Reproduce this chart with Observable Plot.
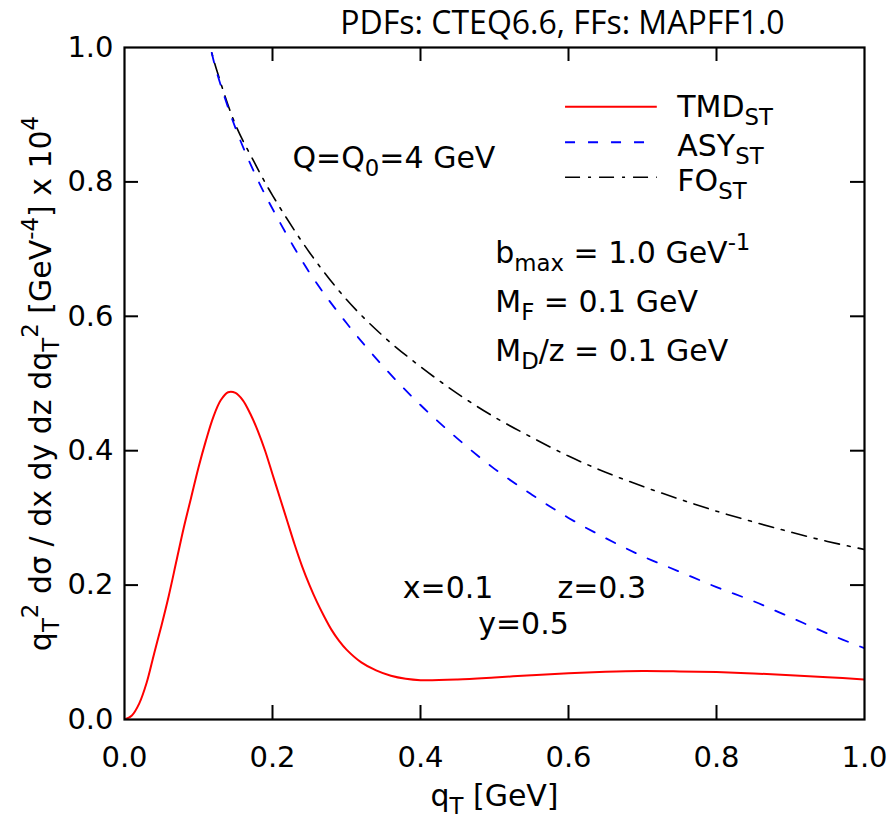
<!DOCTYPE html>
<html>
<head>
<meta charset="utf-8">
<script src="https://cdn.jsdelivr.net/npm/d3@7"></script>
<script src="https://cdn.jsdelivr.net/npm/@observablehq/plot@0.6"></script>
<style>
  html, body { margin: 0; padding: 0; background: white; }
</style>
</head>
<body>
<div id="chart"></div>
<script>
// ---- data ----
const seriesNames = ["TMD_{ST}", "ASY_{ST}", "FO_{ST}"];

const qTmd = [0, 0.01, 0.02, 0.03, 0.04, 0.05, 0.06, 0.07, 0.08, 0.09, 0.10, 0.11, 0.12, 0.13, 0.14, 0.15, 0.16, 0.17, 0.18, 0.19, 0.20, 0.21, 0.22, 0.23, 0.24, 0.25, 0.26, 0.27, 0.28, 0.29, 0.30, 0.32, 0.34, 0.36, 0.38, 0.40, 0.45, 0.50, 0.55, 0.60, 0.65, 0.70, 0.75, 0.80, 0.85, 0.90, 0.95, 1.00];
const tmd  = [0, 0.006, 0.024, 0.055, 0.098, 0.14, 0.185, 0.235, 0.285, 0.33, 0.375, 0.415, 0.45, 0.475, 0.487, 0.486, 0.475, 0.455, 0.43, 0.40, 0.365, 0.33, 0.295, 0.26, 0.228, 0.20, 0.175, 0.153, 0.133, 0.117, 0.104, 0.085, 0.073, 0.065, 0.0605, 0.0585, 0.0595, 0.0625, 0.066, 0.069, 0.071, 0.072, 0.0715, 0.0705, 0.0685, 0.066, 0.063, 0.0595];

const qCurve = [0.11, 0.116, 0.125, 0.15, 0.175, 0.20, 0.25, 0.30, 0.35, 0.40, 0.45, 0.50, 0.55, 0.60, 0.65, 0.70, 0.75, 0.80, 0.85, 0.90, 0.95, 1.00];
const asy    = [1.025, 1.0, 0.962, 0.88, 0.815, 0.76, 0.665, 0.59, 0.525, 0.468, 0.418, 0.373, 0.335, 0.30, 0.27, 0.243, 0.22, 0.197, 0.176, 0.152, 0.128, 0.106];
const fo     = [1.025, 1.0, 0.965, 0.885, 0.83, 0.78, 0.695, 0.625, 0.57, 0.525, 0.485, 0.45, 0.42, 0.392, 0.368, 0.347, 0.328, 0.31, 0.294, 0.279, 0.265, 0.253];

const xTicks = [0, 0.2, 0.4, 0.6, 0.8, 1.0];
const yTicks = [0, 0.2, 0.4, 0.6, 0.8, 1.0];
const innerTicks = [0.2, 0.4, 0.6, 0.8];

const title = "PDFs: CTEQ6.6, FFs: MAPFF1.0";
const xLabel = "q_{T} [GeV]";
const yLabel = "q_{T}^{2} dσ / dx dy dz dq_{T}^{2} [GeV^{-4}] x 10^{4}";
const annoQ = "Q=Q_{0}=4 GeV";
const annoParams = ["b_{max} = 1.0 GeV^{-1}", "M_{F} = 0.1 GeV", "M_{D}/z = 0.1 GeV"];
const annoKin = ["x=0.1", "z=0.3", "y=0.5"];

// ---- tables ----
const tmdData = qTmd.map((q, i) => ({q, v: tmd[i]}));
const asyData = qCurve.map((q, i) => ({q, v: asy[i]}));
const foData  = qCurve.map((q, i) => ({q, v: fo[i]}));

const FS = 29;
const FA = 30;
const SUBSCALE = 0.76;
const fmt = d3.format(".1f");

const plot = Plot.plot({
  width: 890,
  height: 820,
  marginLeft: 124,
  marginRight: 26,
  marginTop: 47,
  marginBottom: 101,
  style: {fontFamily: "DejaVu Sans", fontSize: FS + "px", background: "white", color: "black", overflow: "visible"},
  x: {domain: [0, 1], ticks: xTicks, tickSize: 0, tickPadding: 27, tickFormat: fmt, label: null},
  y: {domain: [0, 1], ticks: yTicks, tickSize: 0, tickPadding: 11, tickFormat: fmt, label: null},
  marks: [
    // curves
    Plot.line(foData,  {x: "q", y: "v", stroke: "black", strokeWidth: 1.6, strokeDasharray: "15,8,3,8", curve: "catmull-rom", clip: true}),
    Plot.line(asyData, {x: "q", y: "v", stroke: "blue", strokeWidth: 1.8, strokeDasharray: "10,13", curve: "catmull-rom", clip: true}),
    Plot.line(tmdData, {x: "q", y: "v", stroke: "red", strokeWidth: 2, curve: "catmull-rom", clip: true}),
    // inward ticks on all four sides
    Plot.tickX(innerTicks, {x: d => d, insetTop: 658, stroke: "black", strokeWidth: 2}),
    Plot.tickX(innerTicks, {x: d => d, insetBottom: 658, stroke: "black", strokeWidth: 2}),
    Plot.tickY(innerTicks, {y: d => d, insetRight: 726, stroke: "black", strokeWidth: 2}),
    Plot.tickY(innerTicks, {y: d => d, insetLeft: 726, stroke: "black", strokeWidth: 2}),
    Plot.frame({stroke: "black", strokeWidth: 2.2}),
    // legend
    Plot.ruleY([0.912], {x1: 0.596, x2: 0.72, stroke: "red", strokeWidth: 2}),
    Plot.ruleY([0.859], {x1: 0.596, x2: 0.72, stroke: "blue", strokeWidth: 2, strokeDasharray: "10,13"}),
    Plot.ruleY([0.807], {x1: 0.596, x2: 0.72, stroke: "black", strokeWidth: 1.6, strokeDasharray: "15,8,3,8"}),
    Plot.text([seriesNames[0]], {x: 0.747, y: 0.896, text: d => d, textAnchor: "start", lineAnchor: "bottom", fontSize: FA}),
    Plot.text([seriesNames[1]], {x: 0.747, y: 0.839, text: d => d, textAnchor: "start", lineAnchor: "bottom", fontSize: FA}),
    Plot.text([seriesNames[2]], {x: 0.747, y: 0.787, text: d => d, textAnchor: "start", lineAnchor: "bottom", fontSize: FA}),
    // annotations
    Plot.text([annoQ], {x: 0.227, y: 0.821, text: d => d, textAnchor: "start", lineAnchor: "bottom", fontSize: FA}),
    Plot.text(annoParams, {x: 0.501, y: (d, i) => [0.680, 0.606, 0.534][i], text: d => d, textAnchor: "start", lineAnchor: "bottom", fontSize: FA}),
    Plot.text(annoKin, {x: (d, i) => [0.376, 0.585, 0.478][i], y: (d, i) => [0.1815, 0.1815, 0.1265][i], text: d => d, textAnchor: "start", lineAnchor: "bottom", fontSize: FA}),
    // axis labels and title
    Plot.text([xLabel], {frameAnchor: "bottom", dy: 86, text: d => d, textAnchor: "middle", lineAnchor: "bottom", fontSize: FA}),
    Plot.text([yLabel], {frameAnchor: "left", dx: -74, rotate: -90, text: d => d, textAnchor: "middle", lineAnchor: "bottom", fontSize: FA}),
    Plot.text([title], {frameAnchor: "top", dx: 68, dy: -14, text: d => d, textAnchor: "middle", lineAnchor: "bottom", fontSize: 32, fontFamily: "Open Sans"})
  ]
});

document.getElementById("chart").appendChild(plot);

// rich text: _{sub} and ^{sup}
function richify(svgNode) {
  d3.select(svgNode).selectAll("text").each(function() {
    const s = this.textContent;
    if (!/[_^]\{/.test(s)) return;
    const F = parseFloat(getComputedStyle(this).fontSize) || FA;
    const segs = [];
    let buf = "", i = 0;
    while (i < s.length) {
      if ((s[i] === "_" || s[i] === "^") && s[i + 1] === "{") {
        if (buf) { segs.push({t: buf, k: "n"}); buf = ""; }
        const end = s.indexOf("}", i + 2);
        segs.push({t: s.slice(i + 2, end), k: s[i] === "_" ? "sub" : "sup"});
        i = end + 1;
      } else { buf += s[i]; i++; }
    }
    if (buf) segs.push({t: buf, k: "n"});
    while (this.firstChild) this.removeChild(this.firstChild);
    let cur = 0;
    const sel = d3.select(this);
    for (const seg of segs) {
      const target = seg.k === "sub" ? 0.27 * F : seg.k === "sup" ? -0.42 * F : 0;
      const ts = sel.append("tspan").text(seg.t);
      if (target - cur !== 0) ts.attr("dy", (target - cur) + "px");
      if (seg.k !== "n") ts.attr("font-size", (SUBSCALE * F) + "px");
      cur = target;
    }
  });
}
richify(plot);
</script>
</body>
</html>
